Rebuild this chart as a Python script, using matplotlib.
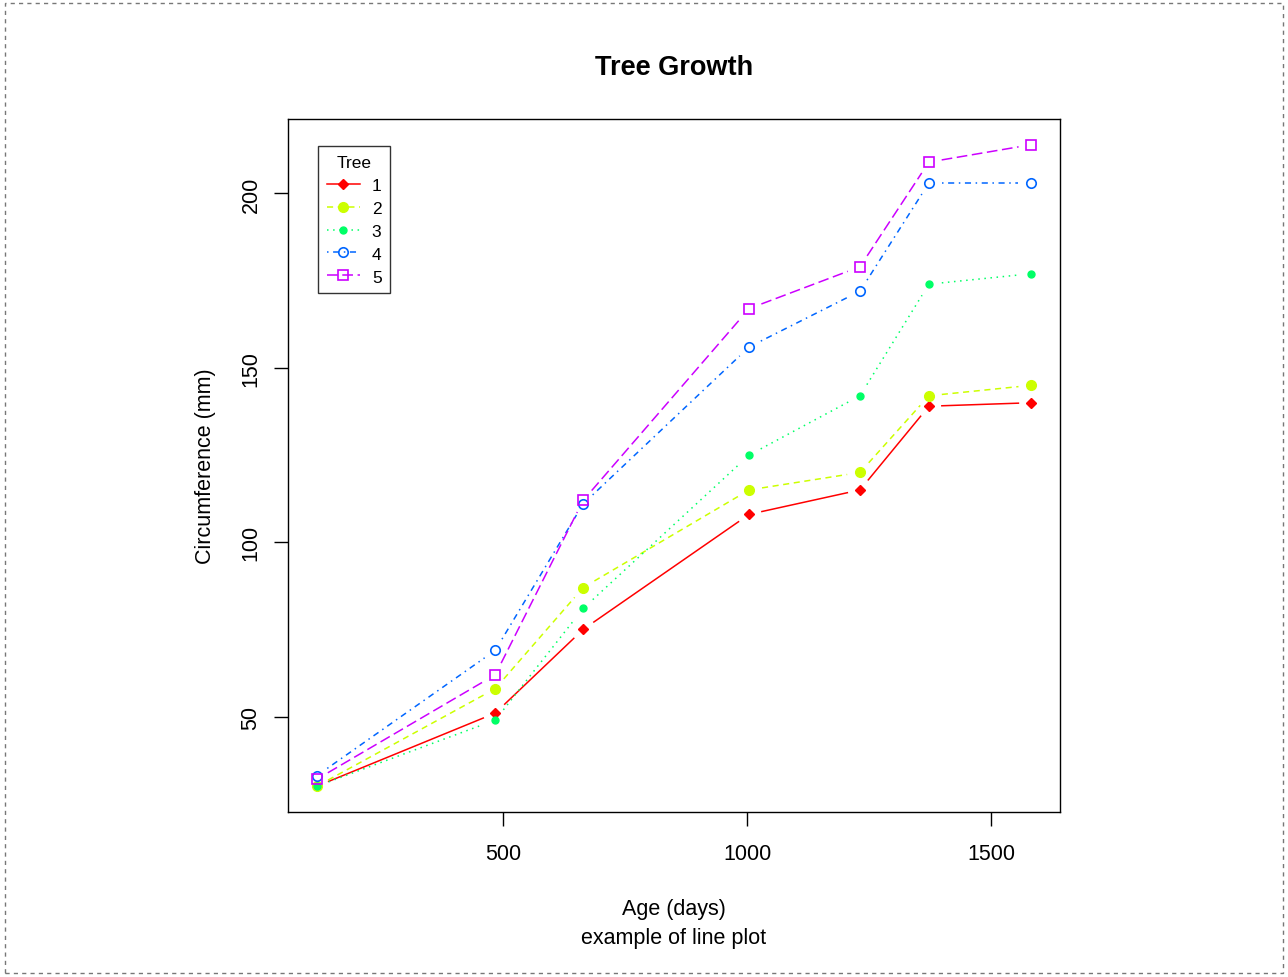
import matplotlib
matplotlib.use("Agg")
import numpy as np
import matplotlib.pyplot as plt
from matplotlib.lines import Line2D
from matplotlib.patches import Rectangle

# Orange data, trees renumbered 1..5 (as.numeric of the ordered factor)
age = [118, 484, 664, 1004, 1231, 1372, 1582]
tree1 = [30, 51, 75, 108, 115, 139, 140]
tree2 = [30, 58, 87, 115, 120, 142, 145]
tree3 = [30, 49, 81, 125, 142, 174, 177]
tree4 = [33, 69, 111, 156, 172, 203, 203]
tree5 = [32, 62, 112, 167, 179, 209, 214]
trees = [tree1, tree2, tree3, tree4, tree5]
labels = ["1", "2", "3", "4", "5"]

colors = ["#FF0000", "#CCFF00", "#00FF66", "#0066FF", "#CC00FF"]
styles = ["-", (0, (4, 3)), (0, (1, 3)), (0, (1, 3, 4, 3)), (0, (7, 3))]
# pch 18..22
marks = [dict(marker="D", ms=4.8, mfc=colors[0], mec=colors[0]),
         dict(marker="o", ms=7, mfc=colors[1], mec=colors[1]),
         dict(marker="o", ms=5, mfc=colors[2], mec=colors[2]),
         dict(marker="o", ms=6.8, mfc="none", mec=colors[3], mew=1.2),
         dict(marker="s", ms=6.8, mfc="none", mec=colors[4], mew=1.2)]

plt.rcParams["font.family"] = ["Liberation Sans", "DejaVu Sans"]
fs = 15.5

fig = plt.figure(figsize=(12.88, 9.78), dpi=100)
ax = fig.add_axes([288/1288, 1-813/978, (1060-288)/1288, (813-120)/978])
ax.set_xlim(59.44, 1640.56)
ax.set_ylim(22.64, 221.36)

gap = 13  # px gap between line and point, like type = "b"
handles = []
for y, lab, c, ls, mk in zip(trees, labels, colors, styles, marks):
    pts = ax.transData.transform(np.column_stack([age, y]))
    inv = ax.transData.inverted()
    for p0, p1 in zip(pts[:-1], pts[1:]):
        d = p1 - p0
        L = np.hypot(*d)
        if L <= 2 * gap:
            continue
        u = d / L
        seg = inv.transform(np.array([p0 + u * gap, p1 - u * gap]))
        ax.plot(seg[:, 0], seg[:, 1], color=c, linestyle=ls, lw=1.1)
    ax.plot(age, y, linestyle="none", **mk)
    handles.append(Line2D([], [], color=c, linestyle=ls, lw=1.1, **mk))

ax.set_xticks([500, 1000, 1500])
ax.set_yticks([50, 100, 150, 200])
ax.tick_params(direction="out", length=10, width=1, labelsize=fs)
ax.tick_params(axis="x", pad=12)
ax.tick_params(axis="y", pad=9)
plt.setp(ax.get_yticklabels(), rotation=90, va="center")
for s in ax.spines.values():
    s.set_linewidth(1)

fig.text(205/1288, 1-466/978, "Circumference (mm)", ha="center", va="center",
         rotation=90, fontsize=fs)
fig.text(674/1288, 1-910/978, "Age (days)", ha="center", va="center", fontsize=fs)
fig.text(674/1288, 1-939/978, "example of line plot", ha="center", va="center", fontsize=fs)
fig.text(674/1288, 1-68/978, "Tree Growth", ha="center", va="center",
         fontsize=19.5, fontweight="bold")

leg = ax.legend(handles, labels, title="Tree", loc="upper left",
                bbox_to_anchor=(30/772, 1-27/693),
                fontsize=12.5, title_fontsize=12.5, frameon=True, fancybox=False,
                edgecolor="black", handlelength=1.9, handletextpad=0.7,
                labelspacing=0.45, borderpad=0.5, borderaxespad=0)
leg.get_frame().set_linewidth(1)

fig.patches.append(Rectangle((0.004, 0.004), 0.992, 0.992, transform=fig.transFigure,
                             fill=False, edgecolor="#777777", linestyle=(0, (3, 3)), lw=1))

fig.savefig("out.png", dpi=100)
